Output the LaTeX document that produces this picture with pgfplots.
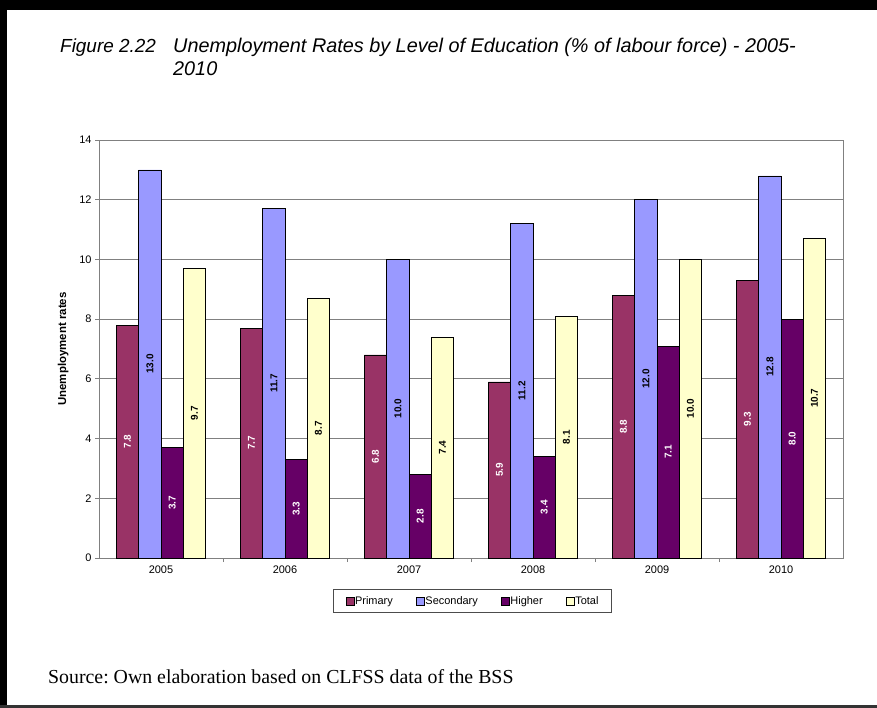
\documentclass[border=0pt]{standalone}
\usepackage{fontspec}
\setmainfont{Liberation Sans}
\newfontfamily\serif{Liberation Serif}
\usepackage{pgfplots}
\pgfplotsset{compat=1.18}

\definecolor{cPrim}{HTML}{993366}
\definecolor{cSec}{HTML}{9999FF}
\definecolor{cHigh}{HTML}{660066}
\definecolor{cTot}{HTML}{FFFFCC}
\definecolor{gridgray}{HTML}{808080}

\begin{document}
\frenchspacing
\begin{tikzpicture}
\useasboundingbox (0,0) rectangle (877bp,-708bp);
% page frame
\fill[black] (0,0) rectangle (877bp,-10bp);
\fill[black] (0,0) rectangle (7bp,-708bp);
\fill[black!80] (0,-705bp) rectangle (877bp,-708bp);

% title
\node[anchor=base west, inner sep=0pt, font=\itshape\fontsize{19}{22}\selectfont] at (60bp,-52bp) {Figure 2.22};
\node[anchor=base west, inner sep=0pt, font=\itshape\fontsize{19.9}{22}\selectfont] at (173bp,-52bp)
  {Unemployment Rates by Level of Education (\% of labour force) - 2005-};
\node[anchor=base west, inner sep=0pt, font=\itshape\fontsize{19.9}{22}\selectfont] at (173bp,-75bp) {2010};

\begin{axis}[
  at={(99bp,-558bp)}, anchor=south west,
  scale only axis, width=744bp, height=418bp,
  ybar=0pt, bar width=22.3bp,
  xmin=-0.5, xmax=5.5, ymin=0, ymax=14,
  xtick={0,...,5}, xticklabels={2005,2006,2007,2008,2009,2010},
  x tick style={draw=none},
  extra x ticks={0.5,1.5,2.5,3.5,4.5},
  extra x tick labels={},
  extra x tick style={x tick style={draw=gridgray, line width=0.8bp}, tick align=outside, major tick length=4bp, grid=none},
  ytick={0,2,...,14},
  y tick style={draw=gridgray, line width=0.8bp},
  tick align=outside, major tick length=4bp,
  xtick pos=lower, ytick pos=left,
  ymajorgrids, grid style={draw=gridgray, line width=0.9bp},
  axis line style={draw=gridgray, line width=0.9bp},
  tick label style={font=\fontsize{11}{13}\selectfont},
  ylabel={\bfseries Unemployment rates},
  ylabel style={font=\fontsize{11.5}{13}\selectfont, at={(-27bp,0.5)}, anchor=south, rotate=0},
  /pgf/number format/assume math mode=true,
  nodes near coords,
  visualization depends on={rawy \as \rawy},
  every node near coord/.append style={shift={(axis direction cs:0,-\rawy/2)}, rotate=90, anchor=center,
    font=\bfseries\fontsize{10}{11}\selectfont,
    /pgf/number format/fixed, /pgf/number format/fixed zerofill, /pgf/number format/precision=1},
  legend style={at={(0.502,-0.103)}, anchor=center, legend columns=4,
    draw=black!70, line width=0.9bp, font=\fontsize{11}{13}\selectfont,
    inner xsep=12bp, inner ysep=6bp,
    /tikz/every even column/.append style={column sep=22bp},
    nodes={inner sep=1bp}},
  legend image code/.code={\draw[#1, draw=black, line width=0.6bp] (0bp,-4bp) rectangle (8bp,4bp);},
  clip=false,
]
\addplot[fill=cPrim, draw=black, line width=0.6bp, every node near coord/.append style={text=white}]
  coordinates {(0,7.8) (1,7.7) (2,6.8) (3,5.9) (4,8.8) (5,9.3)};
\addplot[fill=cSec, draw=black, line width=0.6bp, every node near coord/.append style={text=black}]
  coordinates {(0,13.0) (1,11.7) (2,10.0) (3,11.2) (4,12.0) (5,12.8)};
\addplot[fill=cHigh, draw=black, line width=0.6bp, every node near coord/.append style={text=white}]
  coordinates {(0,3.7) (1,3.3) (2,2.8) (3,3.4) (4,7.1) (5,8.0)};
\addplot[fill=cTot, draw=black, line width=0.6bp, every node near coord/.append style={text=black}]
  coordinates {(0,9.7) (1,8.7) (2,7.4) (3,8.1) (4,10.0) (5,10.7)};
\legend{Primary,Secondary,Higher,Total}
\end{axis}

\node[anchor=base west, inner sep=0pt, font=\serif\fontsize{19.9}{22}\selectfont] at (48bp,-683bp)
  {Source: Own elaboration based on CLFSS data of the BSS};
\end{tikzpicture}
\end{document}
